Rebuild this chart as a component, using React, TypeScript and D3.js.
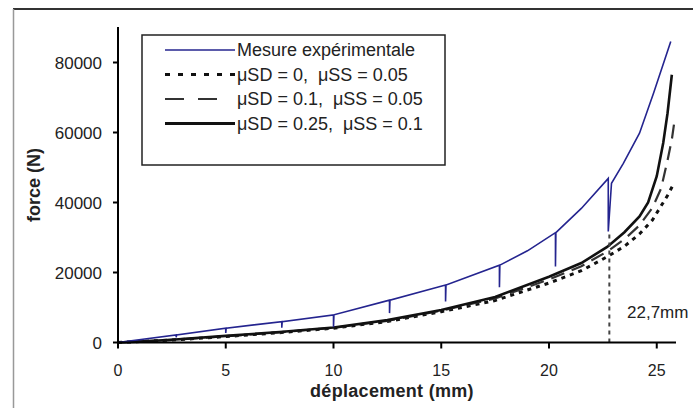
import React from "react";
import * as d3 from "d3";

const xTicks = [0, 5, 10, 15, 20, 25];
const yTicks = [0, 20000, 40000, 60000, 80000];

const expX = [0, 2.7, 2.7, 2.72, 5.0, 5.0, 5.02, 7.6, 7.6, 7.62, 10.0, 10.0, 10.02, 12.6, 12.6, 12.62, 15.2, 15.2, 15.22, 17.7, 17.7, 17.72, 19.0, 20.3, 20.3, 20.32, 21.5, 22.75, 22.75, 22.9, 23.45, 24.2, 24.85, 25.65];
const expY = [0, 2150, 1500, 2150, 4100, 2700, 4100, 5950, 4200, 5950, 7900, 4400, 7900, 12100, 8400, 12100, 16400, 11700, 16400, 22100, 15800, 22100, 26200, 31400, 21700, 31400, 38300, 46900, 31700, 45500, 51200, 59800, 71200, 86000];

const s25X = [0, 1, 2.5, 5, 7.5, 10, 12.5, 15, 17.5, 20, 21.5, 22.7, 23.5, 24.2, 24.6, 25.0, 25.3, 25.5, 25.7];
const s25Y = [0, 250, 800, 1900, 3000, 4300, 6400, 9300, 13000, 18800, 22700, 27300, 31500, 36000, 40000, 47500, 57000, 65500, 76500];

const s10X = [0, 2.5, 5, 7.5, 10, 12.5, 15, 17.5, 20, 21.5, 22.7, 23.5, 24.2, 24.8, 25.2, 25.5, 25.7, 25.85];
const s10Y = [0, 750, 1800, 2900, 4200, 6200, 9100, 12600, 18000, 21800, 26000, 29500, 33500, 38500, 44000, 52000, 58000, 64500];

const s0X = [0, 2.5, 5, 7.5, 10, 12.5, 15, 17.5, 20, 21.5, 22.7, 23.5, 24.2, 24.8, 25.2, 25.5, 25.8];
const s0Y = [0, 700, 1700, 2800, 4100, 6000, 8800, 12000, 17000, 20500, 24500, 27500, 31000, 35000, 39000, 42000, 45500];

const markerX = 22.8;
const markerY = [0, 32000];
const markerLabel = "22,7mm";

const legendLabels = [
  "Mesure expérimentale",
  "μSD = 0,  μSS = 0.05",
  "μSD = 0.1,  μSS = 0.05",
  "μSD = 0.25,  μSS = 0.1",
];

const FONT = "'Liberation Sans', Arial, sans-serif";

export default function App() {
  const W = 693, H = 408;
  const x = d3.scaleLinear().domain([0, 26]).range([118, 678.3]);
  const y = d3.scaleLinear().domain([0, 90000]).range([342.5, 27.5]);
  const line = (xs: number[], ys: number[]) =>
    d3.line<number>().x((_, i) => x(xs[i])).y((_, i) => y(ys[i]))(xs) || "";

  const blue = "#24248f";
  const legendStyles = [
    { stroke: blue, width: 1.5, dash: "", end: 235 },
    { stroke: "#111", width: 3, dash: "5,8", end: 235 },
    { stroke: "#333", width: 2, dash: "19,14", end: 218 },
    { stroke: "#111", width: 3, dash: "", end: 235 },
  ];
  const rowY = [50, 74.5, 99, 123.5];

  return (
    <svg width={W} height={H} style={{ position: "absolute", left: 0, top: 0, background: "#fff" }} fontFamily={FONT}>
      <rect x={0} y={0} width={W} height={H} fill="#fff" />
      {/* outer frame */}
      <line x1={13} x2={W} y1={9} y2={9} stroke="#333" strokeWidth={2} />
      <line x1={13.5} x2={13.5} y1={9} y2={H} stroke="#999" strokeWidth={1.5} />

      {/* series */}
      <path d={line(s0X, s0Y)} fill="none" stroke="#111" strokeWidth={3} strokeDasharray="4,5" />
      <path d={line(s10X, s10Y)} fill="none" stroke="#333" strokeWidth={2.2} strokeDasharray="14,8" />
      <path d={line(s25X, s25Y)} fill="none" stroke="#111" strokeWidth={2.6} />
      <path d={line(expX, expY)} fill="none" stroke={blue} strokeWidth={1.6} />

      {/* marker */}
      <line x1={x(markerX)} x2={x(markerX)} y1={y(markerY[0])} y2={y(markerY[1])} stroke="#444" strokeWidth={2} strokeDasharray="4,4" />
      <text x={627} y={318} fontSize={17} fill="#222">{markerLabel}</text>

      {/* axes */}
      <line x1={x(0)} x2={x(0)} y1={y(0) + 1} y2={27} stroke="#000" strokeWidth={2} />
      <line x1={x(0) - 1} x2={676} y1={y(0)} y2={y(0)} stroke="#000" strokeWidth={2} />
      {yTicks.map((t) => (
        <g key={"y" + t}>
          <line x1={x(0) - 5} x2={x(0)} y1={y(t)} y2={y(t)} stroke="#000" strokeWidth={2} />
          <text x={102} y={y(t) + 6} fontSize={17} textAnchor="end" fill="#222">{t}</text>
        </g>
      ))}
      {xTicks.map((t) => (
        <g key={"x" + t}>
          <line x1={x(t)} x2={x(t)} y1={y(0)} y2={y(0) + 6} stroke="#000" strokeWidth={2} />
          <text x={x(t)} y={376} fontSize={16} textAnchor="middle" fill="#222">{t}</text>
        </g>
      ))}
      <text x={392} y={397} fontSize={18} fontWeight="bold" textAnchor="middle" fill="#222" letterSpacing={0.3}>déplacement (mm)</text>
      <text transform="translate(40,185) rotate(-90)" fontSize={18} fontWeight="bold" textAnchor="middle" fill="#222">force (N)</text>

      {/* legend */}
      <rect x={142} y={35} width={303} height={130} fill="#fff" stroke="#222" strokeWidth={1.5} />
      {legendLabels.map((lab, i) => (
        <g key={lab}>
          <line x1={165} x2={legendStyles[i].end} y1={rowY[i]} y2={rowY[i]} stroke={legendStyles[i].stroke} strokeWidth={legendStyles[i].width} strokeDasharray={legendStyles[i].dash} />
          <text x={237} y={rowY[i] + 6} fontSize={18} fill="#222" style={{ whiteSpace: "pre" }}>{lab}</text>
        </g>
      ))}
    </svg>
  );
}
